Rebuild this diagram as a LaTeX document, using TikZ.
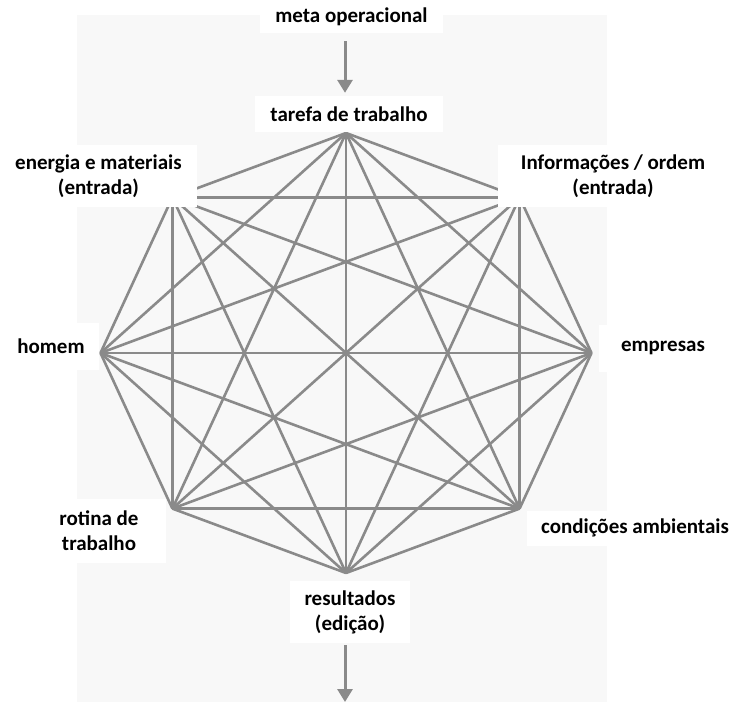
\documentclass[tikz,border=0pt]{standalone}
\usepackage{fontspec}
\setmainfont{Carlito}
\usetikzlibrary{arrows.meta}
\definecolor{bgpanel}{RGB}{248,248,248}
\definecolor{wire}{RGB}{138,138,138}
\begin{document}
\begin{tikzpicture}[x=1pt,y=-1pt,
  wire/.style={draw=wire,line width=2.6pt},
  flow/.style={draw=wire,line width=3pt,-{Triangle[width=15pt,length=13pt]}},
  boxlabel/.style={fill=white,inner sep=0pt,align=center,text=black,
    font=\bfseries\fontsize{21}{25}\selectfont}]
\useasboundingbox (0,0) rectangle (731,702);
% light panel behind the network
\fill[bgpanel] (77,15) rectangle (607,702);

% vertices of the octagon (clockwise from the top)
\coordinate (v1) at (346,133);
\coordinate (v2) at (519.6,197.4);
\coordinate (v3) at (591.5,353);
\coordinate (v4) at (519.6,508.6);
\coordinate (v5) at (346,573);
\coordinate (v6) at (172.4,508.6);
\coordinate (v7) at (100.5,353);
\coordinate (v8) at (172.4,197.4);

% every vertex linked to every other one
\foreach \i in {1,...,8}{
  \foreach \j in {1,...,8}{
    \ifnum\i<\j \draw[wire] (v\i) -- (v\j); \fi
  }
}

% labels on white boxes
\node[boxlabel,minimum width=183pt,minimum height=33pt] (meta) at (351.5,16.5) {meta operacional};
\node[boxlabel,minimum width=188pt,minimum height=36pt] (tarefa) at (349,114) {tarefa de trabalho};
\node[boxlabel,minimum width=197pt,minimum height=62pt] (energia) at (98.5,176) {energia e materiais\\(entrada)};
\node[boxlabel,minimum width=231pt,minimum height=62pt] (info) at (613,176) {Informações / ordem\\(entrada)};
\node[boxlabel,minimum width=96pt,minimum height=47pt] (homem) at (51,346.5) {homem};
\node[boxlabel,minimum width=128pt,minimum height=47pt] (empresas) at (663,348) {empresas};
\node[boxlabel,minimum width=134pt,minimum height=64pt] (rotina) at (99,531) {rotina de\\trabalho};
\node[boxlabel,minimum width=216pt,minimum height=35pt] (condicoes) at (635,528) {condições ambientais};
\node[boxlabel,minimum width=120pt,minimum height=62pt] (resultados) at (350,612) {resultados\\(edição)};

% flow into and out of the network
\coordinate (saida) at (345,702);
\draw[flow] ([yshift=-8pt]meta.south -| saida) -- ([yshift=3pt]tarefa.north -| saida);
\draw[flow] ([yshift=-2pt]resultados.south -| saida) -- (saida);
\end{tikzpicture}
\end{document}
